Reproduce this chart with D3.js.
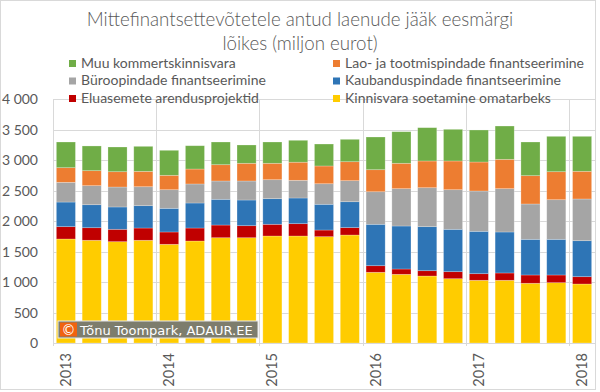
<!DOCTYPE html>
<meta charset="utf-8">
<style>
html, body { margin: 0; padding: 0; background: #fff; }
text { font-family: Lato, "Open Sans", sans-serif; fill: #595959; }
</style>
<body>
<script src="https://d3js.org/d3.v7.min.js"></script>
<script>

var width = 600,
    height = 392;

// quarters 2013 Q1 .. 2018 Q1
var quarters = ["2013Q1","2013Q2","2013Q3","2013Q4","2014Q1","2014Q2","2014Q3","2014Q4",
                "2015Q1","2015Q2","2015Q3","2015Q4","2016Q1","2016Q2","2016Q3","2016Q4",
                "2017Q1","2017Q2","2017Q3","2017Q4","2018Q1"];

var yearLabels = ["2013","2014","2015","2016","2017","2018"];
var yTicks = [0, 500, 1000, 1500, 2000, 2500, 3000, 3500, 4000];

// series (bottom -> top)
var omatarbeks = [1705,1684,1661,1684,1618,1672,1726,1726,1754,1754,1743,1770,1159,1126,1098,1054,1028,1028,979,989,967];
var eluasemed  = [202,206,203,201,202,213,208,197,192,202,109,121,108,87,87,115,108,120,136,126,120];
var kaubandus  = [404,377,366,366,388,410,422,421,420,421,422,425,679,705,722,695,695,672,585,585,590];
var buroo      = [323,312,327,311,305,312,300,312,311,290,337,345,534,612,639,649,661,710,579,649,684];
var lao        = [240,246,251,252,236,245,267,290,269,297,291,311,361,416,438,471,475,481,464,459,454];
var muu        = [421,405,405,410,410,382,372,300,349,359,360,367,536,518,546,519,525,546,552,580,573];

var seriesNames = ["Kinnisvara soetamine omatarbeks","Eluasemete arendusprojektid",
                   "Kaubanduspindade finantseerimine","Büroopindade finantseerimine",
                   "Lao- ja tootmispindade  finantseerimine","Muu kommertskinnisvara"];
var seriesColors = ["#FFCC00","#C00000","#2E75B6","#A5A5A5","#ED7D31","#70AD47"];
var seriesValues = [omatarbeks, eluasemed, kaubandus, buroo, lao, muu];

var rows = quarters.map(function(q, i){
  var r = {q: q};
  seriesNames.forEach(function(n, k){ r[n] = seriesValues[k][i]; });
  return r;
});

var svg = d3.select("body").append("svg")
  .attr("width", width)
  .attr("height", height);

// frame
svg.append("rect")
  .attr("x", 0.5).attr("y", 0.5)
  .attr("width", 595).attr("height", 389)
  .attr("fill", "none").attr("stroke", "#d9d9d9");

var x = d3.scaleBand().domain(quarters).range([53, 595]).paddingInner(0.26).paddingOuter(0.13);
var y = d3.scaleLinear().domain([0, 4000]).range([343, 99]);

// horizontal grid
svg.append("g").selectAll("line")
  .data(yTicks.slice(1))
  .enter().append("line")
  .attr("x1", 53).attr("x2", 595)
  .attr("y1", function(d){ return Math.round(y(d)) + 0.5; })
  .attr("y2", function(d){ return Math.round(y(d)) + 0.5; })
  .attr("stroke", "#d9d9d9");

// vertical grid every 4 quarters
var step = x.step();
svg.append("g").selectAll("line")
  .data(d3.range(0, quarters.length, 4))
  .enter().append("line")
  .attr("x1", function(i){ return Math.round(53 + i * step) + 0.5; })
  .attr("x2", function(i){ return Math.round(53 + i * step) + 0.5; })
  .attr("y1", y(4000)).attr("y2", 346)
  .attr("stroke", "#d9d9d9");

// bars
var stack = d3.stack().keys(seriesNames);
var layers = stack(rows);

svg.append("g").selectAll("g")
  .data(layers)
  .enter().append("g")
  .attr("fill", function(d, i){ return seriesColors[i]; })
  .selectAll("rect")
  .data(function(d){ return d; })
  .enter().append("rect")
  .attr("x", function(d){ return x(d.data.q); })
  .attr("width", x.bandwidth())
  .attr("y", function(d){ return y(d[1]); })
  .attr("height", function(d){ return y(d[0]) - y(d[1]); })
  .attr("stroke", "rgba(255,255,255,0.35)")
  .attr("stroke-width", 0.7);

// x axis line
svg.append("line")
  .attr("x1", 53).attr("x2", 595)
  .attr("y1", 343.5).attr("y2", 343.5)
  .attr("stroke", "#d9d9d9");

// y labels
svg.append("g").selectAll("text")
  .data(yTicks)
  .enter().append("text")
  .attr("x", 38)
  .attr("y", function(d){ return y(d) + 5; })
  .attr("text-anchor", "end")
  .style("font-size", "14px")
  .text(function(d){ return d3.format(",")(d).replace(",", " "); });

// year labels
svg.append("g").selectAll("text")
  .data(yearLabels)
  .enter().append("text")
  .attr("transform", function(d, i){
    var cx = x(quarters[i * 4]) + x.bandwidth() / 2 + 5;
    return "translate(" + cx + ",353) rotate(-90)";
  })
  .attr("text-anchor", "end")
  .style("font-size", "14.5px")
  .text(function(d){ return d; });

// title
var title = svg.append("text")
  .attr("text-anchor", "middle")
  .style("font-size", "18.7px")
  .style("font-weight", 300);
title.append("tspan").attr("x", 300).attr("y", 26).text("Mittefinantsettevõtetele antud laenude jääk eesmärgi");
title.append("tspan").attr("x", 300).attr("y", 50).text("lõikes (miljon eurot)");

// legend
var legendOrder = [5, 4, 3, 2, 1, 0];
var legend = svg.append("g").selectAll("g")
  .data(legendOrder)
  .enter().append("g")
  .attr("transform", function(d, i){
    var col = i % 2, row = Math.floor(i / 2);
    return "translate(" + (col ? 333 : 69) + "," + (60 + row * 17.5) + ")";
  });
legend.append("rect")
  .attr("width", 7).attr("height", 7)
  .attr("fill", function(d){ return seriesColors[d]; });
legend.append("text")
  .attr("x", 12).attr("y", 7.5)
  .style("font-size", "14px")
  .text(function(d){ return seriesNames[d]; });

// watermark
var wm = svg.append("g").attr("transform", "translate(58,321)");
wm.append("rect")
  .attr("width", 200).attr("height", 17)
  .attr("fill", "#7d7d6d").attr("stroke", "#e8e8e8");
wm.append("rect")
  .attr("x", 2).attr("y", 1.5).attr("width", 17).attr("height", 14)
  .attr("fill", "#F0620F");
wm.append("text")
  .attr("x", 10.5).attr("y", 13.5)
  .attr("text-anchor", "middle")
  .style("font-family", "DejaVu Sans")
  .style("font-size", "14px")
  .style("fill", "#fff")
  .text("©");
wm.append("text")
  .attr("x", 22).attr("y", 13.5)
  .style("font-family", "DejaVu Sans")
  .style("font-size", "13px")
  .style("fill", "#fff")
  .text("Tõnu Toompark, ADAUR.EE");

</script>
</body>
